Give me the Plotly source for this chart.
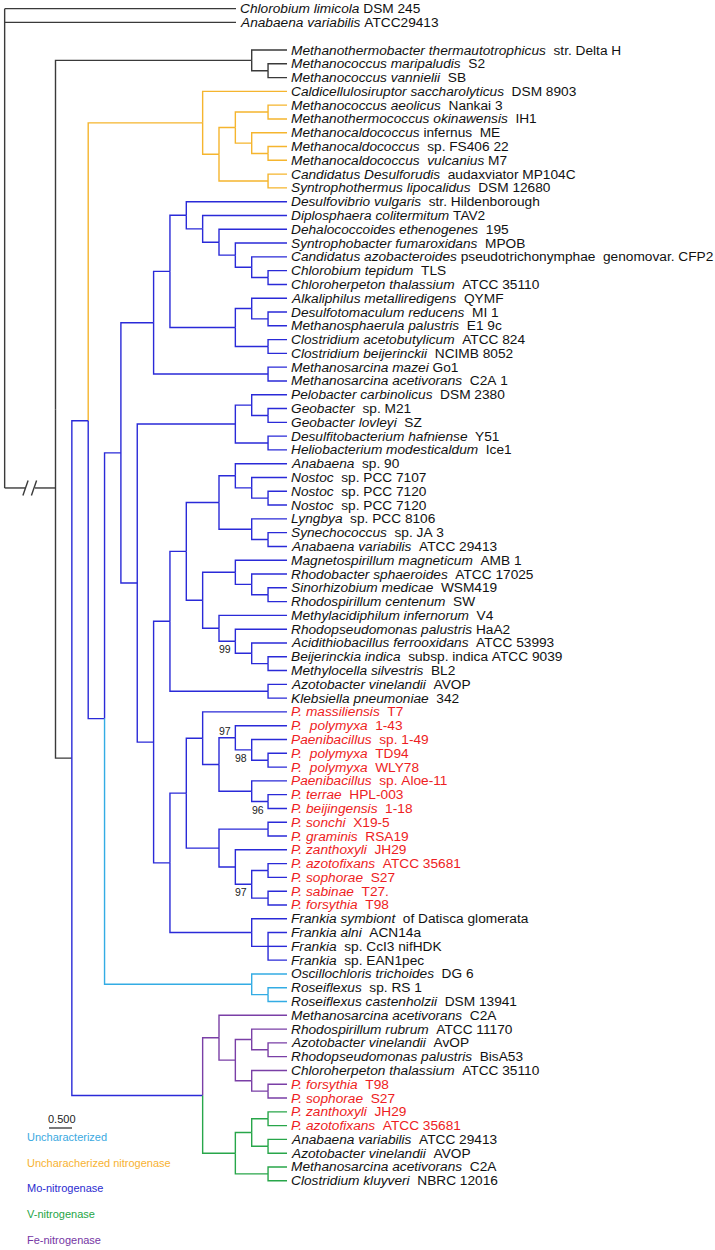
import re
import plotly.graph_objects as go

# ---------------------------------------------------------------- data
LEAF_ITALIC = [
    "Chlorobium limicola", "Anabaena variabilis",
    "Methanothermobacter thermautotrophicus", "Methanococcus maripaludis", "Methanococcus vannielii",
    "Caldicellulosiruptor saccharolyticus", "Methanococcus aeolicus", "Methanothermococcus okinawensis",
    "Methanocaldococcus", "Methanocaldococcus", "Methanocaldococcus  vulcanius",
    "Candidatus Desulforudis", "Syntrophothermus lipocalidus",
    "Desulfovibrio vulgaris", "Diplosphaera colitermitum", "Dehalococcoides ethenogenes",
    "Syntrophobacter fumaroxidans", "Candidatus azobacteroides", "Chlorobium tepidum",
    "Chloroherpeton thalassium", "Alkaliphilus metalliredigens", "Desulfotomaculum reducens",
    "Methanosphaerula palustris", "Clostridium acetobutylicum", "Clostridium beijerinckii",
    "Methanosarcina mazei", "Methanosarcina acetivorans", "Pelobacter carbinolicus",
    "Geobacter", "Geobacter lovleyi", "Desulfitobacterium hafniense", "Heliobacterium modesticaldum",
    "Anabaena", "Nostoc", "Nostoc", "Nostoc", "Lyngbya", "Synechococcus", "Anabaena variabilis",
    "Magnetospirillum magneticum", "Rhodobacter sphaeroides", "Sinorhizobium medicae",
    "Rhodospirillum centenum", "Methylacidiphilum infernorum", "Rhodopseudomonas palustris",
    "Acidithiobacillus ferrooxidans", "Beijerinckia indica", "Methylocella silvestris",
    "Azotobacter vinelandii", "Klebsiella pneumoniae",
    "P. massiliensis", "P.  polymyxa", "Paenibacillus", "P.  polymyxa", "P.  polymyxa",
    "Paenibacillus", "P. terrae", "P. beijingensis", "P. sonchi", "P. graminis", "P. zanthoxyli",
    "P. azotofixans", "P. sophorae", "P. sabinae", "P. forsythia",
    "Frankia symbiont", "Frankia alni", "Frankia", "Frankia",
    "Oscillochloris trichoides", "Roseiflexus", "Roseiflexus castenholzii",
    "Methanosarcina acetivorans", "Rhodospirillum rubrum", "Azotobacter vinelandii",
    "Rhodopseudomonas palustris", "Chloroherpeton thalassium", "P. forsythia", "P. sophorae",
    "P. zanthoxyli", "P. azotofixans", "Anabaena variabilis", "Azotobacter vinelandii",
    "Methanosarcina acetivorans", "Clostridium kluyveri",
]
LEAF_REST = [
    " DSM 245", " ATCC29413",
    "  str. Delta H", "  S2", "  SB",
    "  DSM 8903", "  Nankai 3", "  IH1",
    " infernus  ME", "  sp. FS406 22", " M7",
    "  audaxviator MP104C", "  DSM 12680",
    "  str. Hildenborough", " TAV2", "  195",
    "  MPOB", " pseudotrichonymphae  genomovar. CFP2", "  TLS",
    "  ATCC 35110", "  QYMF", "  MI 1",
    "  E1 9c", "  ATCC 824", "  NCIMB 8052",
    " Go1", "  C2A 1", "  DSM 2380",
    "  sp. M21", "  SZ", "  Y51", "  Ice1",
    "  sp. 90", "  sp. PCC 7107", "  sp. PCC 7120", "  sp. PCC 7120", "  sp. PCC 8106", "  sp. JA 3", "  ATCC 29413",
    "  AMB 1", "  ATCC 17025", "  WSM419",
    "  SW", "  V4", " HaA2",
    "  ATCC 53993", "  subsp. indica ATCC 9039", "  BL2",
    "  AVOP", "  342",
    "  T7", "  1-43", "  sp. 1-49", "  TD94", "  WLY78",
    "  sp. Aloe-11", "  HPL-003", "  1-18", "  X19-5", "  RSA19", "  JH29",
    "  ATCC 35681", "  S27", "  T27.", "  T98",
    "  of Datisca glomerata", "  ACN14a", "  sp. CcI3 nifHDK", "  sp. EAN1pec",
    "  DG 6", "  sp. RS 1", "  DSM 13941",
    "  C2A", "  ATCC 11170", "  AvOP",
    "  BisA53", "  ATCC 35110", "  T98", "  S27",
    "  JH29", "  ATCC 35681", "  ATCC 29413", "  AVOP",
    "  C2A", "  NBRC 12016",
]
RED_LEAVES = list(range(51, 66)) + [78, 79, 80, 81]
OUTGROUP_LEAVES = [1, 2]

# Tree topology (Newick). Leaves are leaf numbers; internal label = node depth level
# (+ clade tag)(/bootstrap)(^ bootstrap drawn above the branch)
METHANO = "(3,(4,5)13)12"
UNCHAR_NIF = "(6,(((7,8)13,(9,(10,11)13)12)11,(12,13)13)10)9y"
MO_I = "(14,(15,(16,(17,(18,(19,20)13)12)11)10)9)8"
MO_J = "((21,(22,23)13)12,(24,25)13)11"
MO_F = f"(({MO_I},{MO_J})7,(26,27)13)6"
MO_P = "((28,(29,30)13)12,(31,32)13)11"
MO_S = "((33,(34,(35,36)13)12)11,(37,(38,39)13)12)10"
MO_T = "((40,(41,(42,43)13)12)11,(44,(45,(46,(47,48)13)12)11/99)10)9"
MO_Q = f"(({MO_S},{MO_T})8,(49,50)13)7"
PAEN_X = "(51,((52,(53,(54,55)13)12/98)11/97^,(56,(57,58)13/96)12)10)9"
PAEN_Z = "((59,60)13,(61,((62,63)13,(64,65)13)12/97)11)10"
FRANKIA = "(66,(67,68,69)13)12"
MO_V = f"(({PAEN_X},{PAEN_Z})8,{FRANKIA})7"
MO_G = f"({MO_P},({MO_Q},{MO_V})6)5"
UNCHAR = "(70,(71,72)13)12c"
FE_NIF = "(73,((74,(75,76)13)12,(77,(78,79)13)12)11)10p"
V_NIF = "(((80,81)13,(82,83)13)12,(84,85)13)11g"
TREE = f"({METHANO},(({UNCHAR_NIF},(({MO_F},{MO_G})4,{UNCHAR})3)2b,({FE_NIF},{V_NIF})9b)1)0k"

ROOT_LEVEL = -3.11
OUTGROUP_TIP_LEVEL = 11.04
TIP_LEVEL = 14.16
ROOT_JOIN_ROW = 31.76

LEGEND_LABELS = ["Uncharacterized", "Uncharacherized nitrogenase", "Mo-nitrogenase",
                 "V-nitrogenase", "Fe-nitrogenase"]
SCALE_LABEL = "0.500"

# ---------------------------------------------------------------- style
CLADE_COLORS = {"k": "#3a3a3a", "y": "#f5b52e", "b": "#2a2ad8", "c": "#33ace4",
                "p": "#7a3fa6", "g": "#28a64a"}
LEGEND_COLORS = ["#3aa9df", "#f7b231", "#2b2bd0", "#25a546", "#7536a4"]
RED = "#ee1d23"
FONT = "Liberation Sans, Arial, sans-serif"
PX_PER_LEVEL = 16.35
LEVEL0_PX = 55.5
PX_PER_ROW = 13.79
ROW0_PX = 50.0
W, H = 715, 1250
LW = 1.4


# ---------------------------------------------------------------- tree parsing
def parse_newick(s):
    pos = 0

    def node():
        nonlocal pos
        if s[pos] == "(":
            pos += 1
            kids = [node()]
            while s[pos] == ",":
                pos += 1
                kids.append(node())
            pos += 1  # ')'
            m = re.match(r"(-?\d+(?:\.\d+)?)([a-z]?)(?:/(\d+))?(\^?)", s[pos:])
            pos += m.end()
            return {"children": kids, "level": float(m.group(1)), "tag": m.group(2) or None,
                    "boot": m.group(3), "above": bool(m.group(4))}
        m = re.match(r"\d+", s[pos:])
        pos += m.end()
        return {"leaf": int(m.group())}

    return node()


tree = parse_newick(TREE)

# rows: outgroup leaves first, then one blank slot
leaf_row = {}
r = -len(OUTGROUP_LEAVES) - 1
for lf in range(1, len(LEAF_ITALIC) + 1):
    leaf_row[lf] = r
    r += 1
    if lf == OUTGROUP_LEAVES[-1]:
        r += 1


def place(n):
    if "leaf" in n:
        n["x"], n["y"] = TIP_LEVEL, leaf_row[n["leaf"]]
    else:
        for c in n["children"]:
            place(c)
        n["x"] = n["level"]
        n["y"] = (n["children"][0]["y"] + n["children"][-1]["y"]) / 2


place(tree)

segs = {k: ([], []) for k in CLADE_COLORS}
boots = []


def draw(n, tag):
    for c in n["children"]:
        ct = c.get("tag") or tag
        xs, ys = segs[ct]
        xs += [n["x"], n["x"], c["x"], None]
        ys += [n["y"], c["y"], c["y"], None]
        if "children" in c:
            if c["boot"]:
                boots.append((c["x"], c["y"], c["boot"], c["above"]))
            draw(c, ct)


draw(tree, tree["tag"])

# root: outgroup + join (with axis break)
lv = lambda px: (px - LEVEL0_PX) / PX_PER_LEVEL
rw = lambda py: (py - ROW0_PX) / PX_PER_ROW
xs, ys = segs["k"]
xs += [ROOT_LEVEL, ROOT_LEVEL, None]
ys += [leaf_row[OUTGROUP_LEAVES[0]], ROOT_JOIN_ROW, None]
for lf in OUTGROUP_LEAVES:
    xs += [ROOT_LEVEL, OUTGROUP_TIP_LEVEL, None]
    ys += [leaf_row[lf], leaf_row[lf], None]
brk_a, brk_b = lv(LEVEL0_PX - 30.5), lv(LEVEL0_PX - 20.5)
xs += [ROOT_LEVEL, brk_a, None, brk_b, tree["x"], None]
ys += [ROOT_JOIN_ROW, ROOT_JOIN_ROW, None, ROOT_JOIN_ROW, ROOT_JOIN_ROW, None]
for cx in (LEVEL0_PX - 30.0, LEVEL0_PX - 21.5):
    xs += [lv(cx - 2.6), lv(cx + 2.6), None]
    ys += [ROOT_JOIN_ROW + 7.5 / PX_PER_ROW, ROOT_JOIN_ROW - 7.5 / PX_PER_ROW, None]

fig = go.Figure()
for k, (xx, yy) in segs.items():
    fig.add_trace(go.Scatter(x=xx, y=yy, mode="lines", hoverinfo="skip",
                             line=dict(color=CLADE_COLORS[k], width=LW)))


def fmt(s):
    return s.replace(" ", "\u00a0")


ann = []
for lf in range(1, len(LEAF_ITALIC) + 1):
    x0 = OUTGROUP_TIP_LEVEL if lf in OUTGROUP_LEAVES else TIP_LEVEL
    ann.append(dict(
        x=x0 + 1.6 / PX_PER_LEVEL, y=leaf_row[lf], xref="x", yref="y",
        text=f"<i>{fmt(LEAF_ITALIC[lf - 1])}</i>{fmt(LEAF_REST[lf - 1])}",
        showarrow=False, xanchor="left", yanchor="middle",
        font=dict(family=FONT, size=13.7, color=RED if lf in RED_LEAVES else "#111111")))

for bx, by, bv, above in boots:
    ann.append(dict(
        x=bx - 2.5 / PX_PER_LEVEL, y=by + (-6.5 if above else 8.0) / PX_PER_ROW,
        xref="x", yref="y", text=bv, showarrow=False, xanchor="right", yanchor="middle",
        font=dict(family=FONT, size=10.5, color="#222222")))

# scale bar + legend (paper coordinates)
ann.append(dict(x=62 / W, y=1 - 1119 / H, xref="paper", yref="paper", text=SCALE_LABEL,
                showarrow=False, xanchor="center", yanchor="middle",
                font=dict(family=FONT, size=11, color="#222222")))
for i, (lab, col) in enumerate(zip(LEGEND_LABELS, LEGEND_COLORS)):
    ann.append(dict(x=25 / W, y=1 - (1137 + 25.7 * i) / H, xref="paper", yref="paper",
                    text=lab, showarrow=False, xanchor="left", yanchor="middle",
                    font=dict(family=FONT, size=11, color=col)))

fig.update_layout(
    width=W, height=H, autosize=False,
    margin=dict(l=0, r=0, t=0, b=0),
    paper_bgcolor="white", plot_bgcolor="white", showlegend=False,
    xaxis=dict(visible=False, range=[lv(0), lv(W)], fixedrange=True),
    yaxis=dict(visible=False, range=[rw(H), rw(0)], fixedrange=True),
    annotations=ann,
    shapes=[dict(type="line", xref="paper", yref="paper", x0=49 / W, x1=72 / W,
                 y0=1 - 1128 / H, y1=1 - 1128 / H, line=dict(color="#222222", width=1.2))],
)

fig.write_html("out.html", config={"displayModeBar": False},
               post_script="document.body.style.margin='0';document.body.style.overflow='hidden';")
